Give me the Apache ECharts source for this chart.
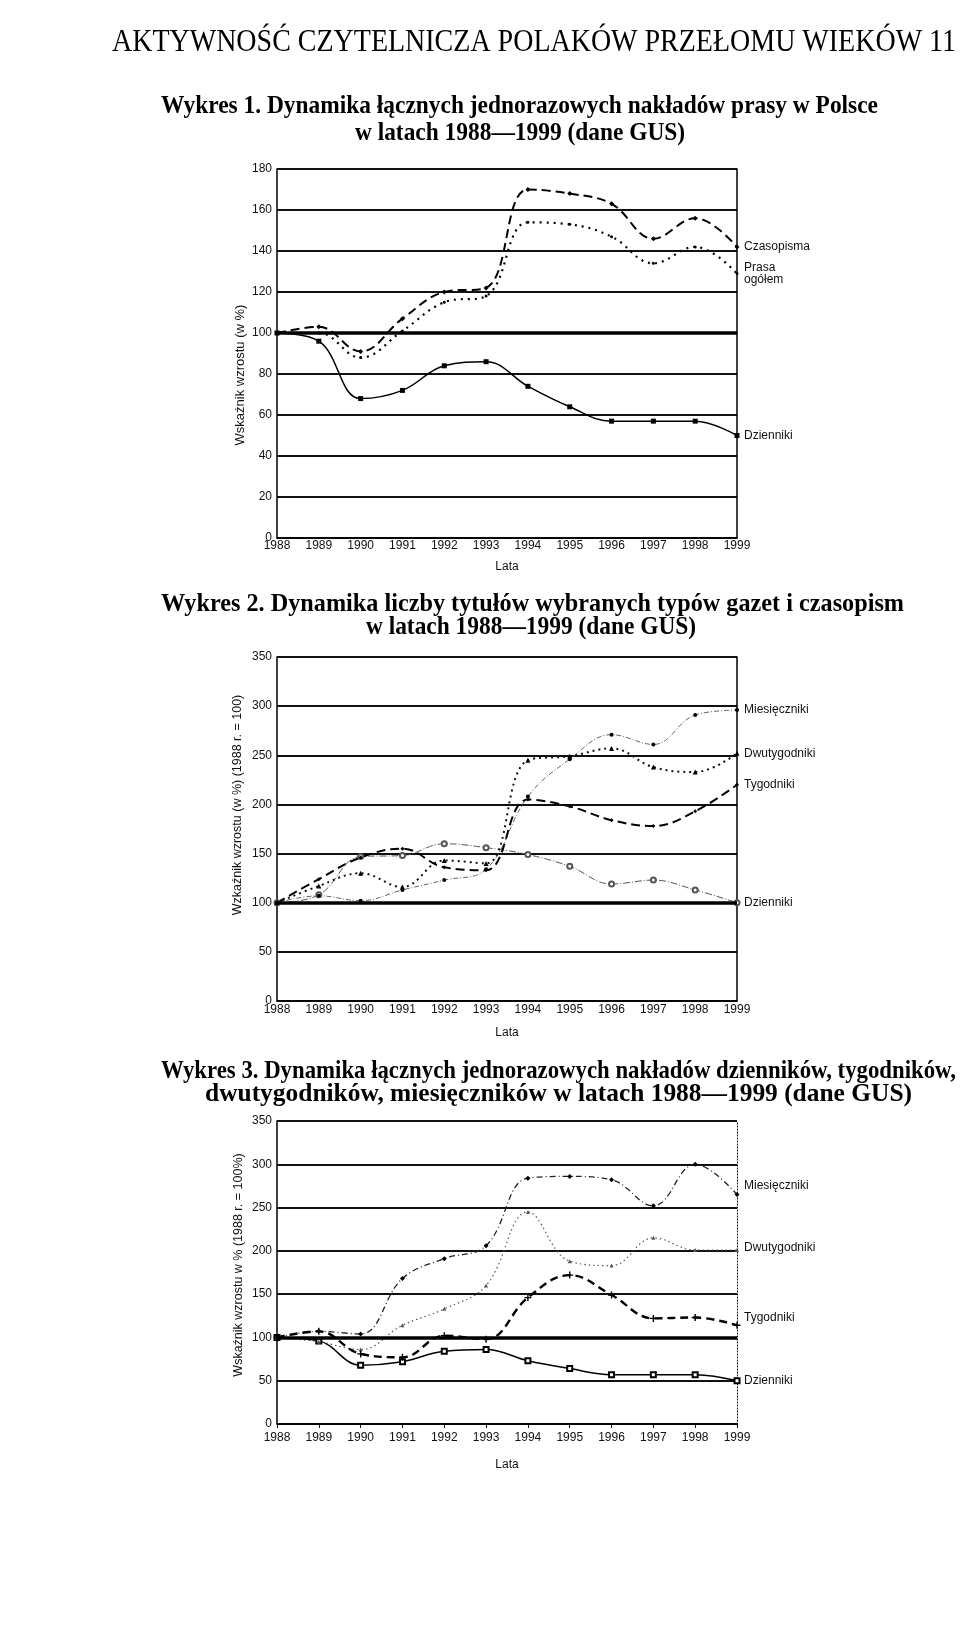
<!DOCTYPE html>
<html>
<head>
<meta charset="utf-8">
<script src="https://cdn.jsdelivr.net/npm/echarts@6/dist/echarts.min.js"></script>
<style>
html,body{margin:0;padding:0;background:#fff;}
#main{width:960px;height:1633px;}
</style>
</head>
<body>
<div id="main"></div>
<script>
// ---- data ----
const years = ['1988','1989','1990','1991','1992','1993','1994','1995','1996','1997','1998','1999'];

// Wykres 1
const c1Names = ['Dzienniki', 'Czasopisma', 'Prasa\nogółem'];
const c1Dzienniki  = [100, 96, 68, 72, 84, 86, 74, 64, 57, 57, 57, 50];
const c1Czasopisma = [100, 103, 91, 107, 120, 122, 170, 168, 163, 146, 156, 142];
const c1Prasa      = [100, 100, 88, 101, 115, 118, 154, 153, 147, 134, 142, 129];

// Wykres 2
const c2Names = ['Dzienniki', 'Miesięczniki', 'Dwutygodniki', 'Tygodniki'];
const c2Dzienniki = [100, 108, 147, 148, 160, 156, 149, 137, 119, 123, 113, 100];
const c2Miesiecz  = [100, 107, 102, 113, 123, 134, 208, 246, 271, 261, 291, 296];
const c2Dwutyg    = [100, 117, 130, 116, 143, 140, 245, 249, 257, 238, 233, 252];
const c2Tyg       = [100, 124, 146, 155, 136, 133, 205, 198, 184, 178, 193, 220];

// Wykres 3
const c3Names = ['Dzienniki', 'Miesięczniki', 'Dwutygodniki', 'Tygodniki'];
const c3Dzienniki = [100, 96, 68, 72, 84, 86, 73, 64, 57, 57, 57, 50];
const c3Miesiecz  = [100, 107, 104, 168, 191, 206, 284, 286, 282, 252, 300, 265];
const c3Dwutyg    = [100, 95, 86, 114, 133, 160, 245, 188, 183, 215, 201, 201];
const c3Tyg       = [100, 107, 81, 77, 102, 98, 146, 172, 149, 122, 123, 114];

// axis ranges / labels
const yMax1 = 180, yStep1 = 20;
const yMax2 = 350, yStep2 = 50;
const yMax3 = 350, yStep3 = 50;
const xName = 'Lata';
const yName1 = 'Wskaźnik wzrostu (w %)';
const yName2 = 'Wzkaźnik wzrostu (w %) (1988 r. = 100)';
const yName3 = 'Wskaźnik wzrostu w % (1988 r. = 100%)';
const header = 'AKTYWNOŚĆ CZYTELNICZA POLAKÓW PRZEŁOMU WIEKÓW 11';
const t1 = ['Wykres 1. Dynamika łącznych jednorazowych nakładów prasy w Polsce', 'w latach 1988—1999 (dane GUS)'];
const t2 = ['Wykres 2. Dynamika liczby tytułów wybranych typów gazet i czasopism', 'w latach 1988—1999 (dane GUS)'];
const t3 = ['Wykres 3. Dynamika łącznych jednorazowych nakładów dzienników, tygodników,', 'dwutygodników, miesięczników w latach 1988—1999 (dane GUS)'];

// ---- helpers ----
const SANS = "'Liberation Sans', Arial, sans-serif";
const SERIF = "'Liberation Serif', 'Times New Roman', serif";
const mctx = document.createElement('canvas').getContext('2d');
function measure(text, font){ mctx.font = font; return mctx.measureText(text).width; }
function fitText(text, font, x0, x1, yc){
  const w = measure(text, font);
  const s = (x1 - x0) / w;
  return {type:'text', x:x0, y:yc, scaleX:s, silent:true,
    style:{text:text, font:font, fill:'#000', align:'left', verticalAlign:'middle', textAlign:'left', textVerticalAlign:'middle'}};
}
function centerText(text, font, cx, yc, s){
  const w = measure(text, font) * s;
  return {type:'text', x:cx - w/2, y:yc, scaleX:s, silent:true,
    style:{text:text, font:font, fill:'#000', align:'left', verticalAlign:'middle', textAlign:'left', textVerticalAlign:'middle'}};
}
function vText(text, cx, cy, size){
  return {type:'text', x:cx, y:cy, rotation:Math.PI/2, silent:true,
    style:{text:text, font:size+'px '+SANS, fill:'#111', align:'center', verticalAlign:'middle', textAlign:'center', textVerticalAlign:'middle'}};
}

const grids = [
  {left:277, top:169, width:460, height:369},
  {left:277, top:657, width:460, height:344},
  {left:277, top:1121, width:460, height:303}
];

function xAxis(i, nameGap, tick, margin){
  return {type:'category', gridIndex:i, data:years, boundaryGap:false,
    name:xName, nameLocation:'middle', nameGap:nameGap,
    nameTextStyle:{fontFamily:SANS, fontSize:12, color:'#111'},
    axisLine:{show:true, onZero:false, lineStyle:{color:'#000', width:1.5}},
    axisTick:{show:tick, length:4, lineStyle:{color:'#000'}},
    axisLabel:{fontFamily:SANS, fontSize:12, color:'#111', margin:margin, interval:0},
    splitLine:{show:false}};
}
function yAxis(i, max, step){
  return {type:'value', gridIndex:i, min:0, max:max, interval:step,
    axisLine:{show:true, lineStyle:{color:'#000', width:1.5}},
    axisTick:{show:false},
    axisLabel:{fontFamily:SANS, fontSize:12, color:'#111', margin:5},
    splitLine:{show:true, lineStyle:{color:'#111', width:1.9}}};
}
function yRight(i, max, step, dotted){
  return {type:'value', gridIndex:i, min:0, max:max, interval:step, position:'right',
    axisLine:{show:true, lineStyle:{color:'#000', width:dotted?1:1.5, type:dotted?[1,2]:'solid'}},
    axisTick:{show:false}, axisLabel:{show:false}, splitLine:{show:false}};
}
function endLabel(dy){
  return {show:true, formatter:'{a}', distance:7, offset:[0, dy||0],
    fontFamily:SANS, fontSize:12, color:'#111', lineHeight:12};
}
const line100 = {symbol:'none', silent:true, label:{show:false},
  lineStyle:{color:'#000', width:3.5, type:'solid'}, data:[{yAxis:100}]};

function ser(name, data, gi, opt){
  return Object.assign({
    type:'line', name:name, data:data, xAxisIndex:gi, yAxisIndex:gi*2,
    smooth:0.4, symbolSize:5, showSymbol:true,
    itemStyle:{color:'#000'}, endLabel:endLabel(0)
  }, opt);
}

const series = [
  // Wykres 1
  ser(c1Names[0], c1Dzienniki, 0, {symbol:'rect', symbolSize:5,
    lineStyle:{color:'#000', width:1.5}, markLine:line100}),
  ser(c1Names[1], c1Czasopisma, 0, {symbol:'diamond', symbolSize:5,
    lineStyle:{color:'#000', width:2, type:[9,5]}}),
  ser(c1Names[2], c1Prasa, 0, {symbol:'circle', symbolSize:3,
    lineStyle:{color:'#000', width:2.2, type:[2,5]}}),
  // Wykres 2
  ser(c2Names[0], c2Dzienniki, 1, {symbol:'emptyCircle', symbolSize:5,
    itemStyle:{color:'#555', borderColor:'#444'}, lineStyle:{color:'#555', width:1, type:[7,2,1,2]}, markLine:line100}),
  ser(c2Names[1], c2Miesiecz, 1, {symbol:'circle', symbolSize:4,
    lineStyle:{color:'#666', width:1, type:[5,2,1,2]}}),
  ser(c2Names[2], c2Dwutyg, 1, {symbol:'triangle', symbolSize:5,
    lineStyle:{color:'#111', width:2, type:[2,4]}}),
  ser(c2Names[3], c2Tyg, 1, {symbol:'diamond', symbolSize:4,
    lineStyle:{color:'#000', width:2, type:[9,5]}}),
  // Wykres 3
  ser(c3Names[0], c3Dzienniki, 2, {symbol:'emptyRect', symbolSize:5,
    itemStyle:{color:'#000', borderColor:'#000'}, lineStyle:{color:'#000', width:1.5}, markLine:line100}),
  ser(c3Names[1], c3Miesiecz, 2, {symbol:'diamond', symbolSize:5,
    lineStyle:{color:'#222', width:1.3, type:[6,3,1,3]}, endLabel:endLabel(-9)}),
  ser(c3Names[2], c3Dwutyg, 2, {symbol:'triangle', symbolSize:4,
    itemStyle:{color:'#555'}, lineStyle:{color:'#555', width:1.2, type:[1.5,3]}, endLabel:endLabel(-2)}),
  ser(c3Names[3], c3Tyg, 2, {symbol:'path://M4,0 L6,0 L6,4 L10,4 L10,6 L6,6 L6,10 L4,10 L4,6 L0,6 L0,4 L4,4 Z', symbolSize:7,
    lineStyle:{color:'#000', width:2.4, type:[8,5]}, endLabel:endLabel(-8)})
];

// titles
const HF = '31px ' + SERIF;
const TF = 'bold 25px ' + SERIF;
const s1 = (878 - 161) / measure(t1[0], TF);
const graphics = [
  fitText(header, HF, 112, 956, 43),
  fitText(t1[0], TF, 161, 878, 107),
  centerText(t1[1], TF, 520, 134, s1),
  fitText(t2[0], TF, 161, 904, 605),
  centerText(t2[1], TF, 531, 628, s1),
  fitText(t3[0], TF, 161, 956, 1072),
  fitText(t3[1], TF, 205, 912, 1095),
  vText(yName1, 240, 375, 13),
  vText(yName2, 238, 805, 12.5),
  vText(yName3, 239, 1265, 12.5)
];

const option = {
  animation:false,
  backgroundColor:'#fff',
  grid:grids,
  xAxis:[xAxis(0, 23, false, 2), xAxis(1, 26, false, 3), xAxis(2, 35, true, 8)],
  yAxis:[yAxis(0, yMax1, yStep1), yRight(0, yMax1, yStep1, false),
         yAxis(1, yMax2, yStep2), yRight(1, yMax2, yStep2, false),
         yAxis(2, yMax3, yStep3), yRight(2, yMax3, yStep3, true)],
  series:series,
  graphic:graphics
};
const chart = echarts.init(document.getElementById('main'), null, {renderer:'canvas'});
chart.setOption(option);
</script>
</body>
</html>
